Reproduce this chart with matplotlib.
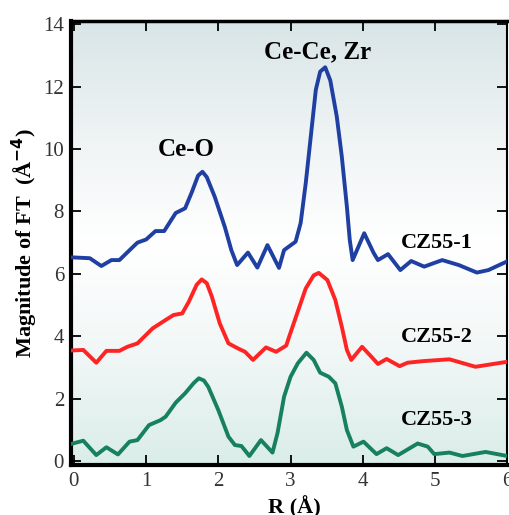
import numpy as np
import matplotlib
matplotlib.use("Agg")
import matplotlib.pyplot as plt
from matplotlib.colors import LinearSegmentedColormap

# %% ---------------------------------
#           data
# ------------------------------------
r_cz1 = [-0.05, 0.22, 0.38, 0.52, 0.63, 0.79, 0.88, 1.0, 1.13, 1.25, 1.41, 1.54, 1.63, 1.72, 1.78,
         1.84, 1.95, 2.09, 2.18, 2.26, 2.41, 2.54, 2.68, 2.84, 2.91, 3.07, 3.14, 3.21, 3.28, 3.35,
         3.41, 3.48, 3.55, 3.64, 3.71, 3.78, 3.82, 3.86, 4.02, 4.15, 4.21, 4.35, 4.52, 4.67,
         4.85, 5.1, 5.33, 5.58, 5.74, 6.0]
m_cz1 = [6.53, 6.5, 6.25, 6.44, 6.44, 6.8, 7.0, 7.1, 7.37, 7.37, 7.95, 8.1, 8.6, 9.15, 9.27,
         9.1, 8.47, 7.5, 6.76, 6.28, 6.68, 6.2, 6.92, 6.19, 6.76, 7.03, 7.63, 8.9, 10.4, 11.9,
         12.48, 12.62, 12.2, 11.04, 9.75, 8.15, 7.08, 6.44, 7.3, 6.67, 6.44, 6.63, 6.12, 6.41,
         6.23, 6.44, 6.28, 6.04, 6.12, 6.4]

r_cz2 = [-0.05, 0.13, 0.31, 0.45, 0.63, 0.74, 0.88, 1.09, 1.27, 1.38, 1.5, 1.59, 1.7, 1.77, 1.84,
         1.91, 2.02, 2.14, 2.27, 2.37, 2.48, 2.66, 2.8, 2.94, 2.98, 3.1, 3.21, 3.32, 3.39, 3.51,
         3.62, 3.71, 3.78, 3.84, 3.99, 4.12, 4.21, 4.33, 4.51, 4.62, 4.83, 5.2, 5.56, 6.0]
m_cz2 = [3.54, 3.56, 3.15, 3.53, 3.53, 3.66, 3.77, 4.25, 4.52, 4.68, 4.73, 5.1, 5.65, 5.82, 5.7,
         5.27, 4.41, 3.77, 3.61, 3.5, 3.24, 3.64, 3.5, 3.7, 3.98, 4.79, 5.53, 5.95, 6.03, 5.8,
         5.16, 4.3, 3.56, 3.24, 3.66, 3.34, 3.11, 3.27, 3.04, 3.15, 3.2, 3.26, 3.02, 3.18]

r_cz3 = [-0.05, 0.13, 0.31, 0.45, 0.61, 0.77, 0.88, 1.04, 1.2, 1.27, 1.41, 1.54, 1.66, 1.73, 1.8,
         1.86, 2.0, 2.14, 2.23, 2.32, 2.43, 2.59, 2.75, 2.82, 2.91, 3.0, 3.1, 3.22, 3.32, 3.41,
         3.53, 3.62, 3.71, 3.78, 3.87, 4.01, 4.19, 4.33, 4.49, 4.76, 4.9, 4.99, 5.2, 5.38,
         5.7, 6.0]
m_cz3 = [0.54, 0.65, 0.19, 0.44, 0.21, 0.62, 0.67, 1.15, 1.31, 1.42, 1.87, 2.17, 2.5, 2.65, 2.58,
         2.38, 1.63, 0.78, 0.51, 0.48, 0.16, 0.67, 0.27, 0.9, 2.06, 2.7, 3.13, 3.47, 3.24, 2.83,
         2.7, 2.49, 1.74, 0.99, 0.46, 0.62, 0.22, 0.41, 0.19, 0.56, 0.46, 0.22, 0.27, 0.16,
         0.29, 0.16]

sample_names = ["CZ55-1", "CZ55-2", "CZ55-3"]
line_colors = ["#1f3fa3", "#ff2424", "#17805c"]

# %% ---------------------------------
#           figure
# ------------------------------------
plt.rcParams['font.family'] = ['Liberation Serif', 'DejaVu Serif']

fig = plt.figure(figsize=(5.09, 5.15), dpi=100)
ax = fig.add_axes([0.1395, 0.097, 0.857, 0.862])

# soft background gradient (blue-grey top, white middle, pale teal bottom)
bg = LinearSegmentedColormap.from_list("bg", ["#daede9", "#f1f7f6", "#ffffff", "#eef3f4", "#d9e5e7"])
grad = np.linspace(0, 1, 256).reshape(-1, 1)
ax.imshow(grad, cmap=bg, aspect='auto', extent=[0, 1, 0, 1], origin='lower',
          transform=ax.transAxes, zorder=0)

for r, m, c in zip([r_cz1, r_cz2, r_cz3], [m_cz1, m_cz2, m_cz3], line_colors):
    ax.plot(r, m, color=c, lw=2.8, solid_joinstyle='round', solid_capstyle='round', zorder=3)

ax.set_xlim(-0.04, 6.0)
ax.set_ylim(-0.13, 14.1)
ax.set_xticks(range(0, 7))
ax.set_yticks(range(0, 15, 2))
ax.tick_params(direction='in', length=7, width=1.3, top=True, right=True,
               labelsize=15, labelcolor='#333333', pad=5)
for s in ax.spines.values():
    s.set_linewidth(3)
ax.spines['top'].set_linewidth(2.5)
ax.spines['right'].set_linewidth(1.5)

ax.set_xlabel("R (Å)", fontsize=16, fontweight='bold')
ax.xaxis.set_label_coords(0.512, -0.07)
ax.set_ylabel("Magnitude of FT  (Å$^{\\mathbf{-4}}$)", fontsize=16, fontweight='bold', labelpad=2)

# peak annotations and sample labels
ax.text(1.55, 9.97, "Ce-O", fontsize=18, fontweight='bold', ha='center', va='center')
ax.text(3.37, 13.12, "Ce-Ce, Zr", fontsize=18, fontweight='bold', ha='center', va='center')
for name, yv in zip(sample_names, [7.0, 3.97, 1.31]):
    ax.text(5.02, yv, name, fontsize=16, fontweight='bold', ha='center', va='center')

fig.savefig("out.png", dpi=100)
